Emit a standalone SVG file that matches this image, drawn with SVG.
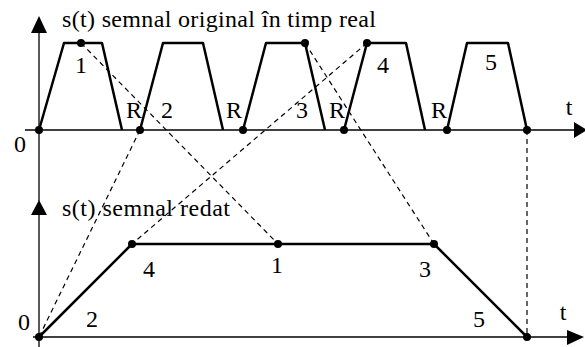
<svg xmlns="http://www.w3.org/2000/svg" width="585" height="347" viewBox="0 0 585 347">
<style>
.ax{stroke:#000;stroke-width:1.3;fill:none}
.sig{stroke:#000;stroke-width:2.5;fill:none;stroke-linejoin:round}
.dash{stroke:#000;stroke-width:1.2;fill:none;stroke-dasharray:5,4}
.head{fill:#000}
.dot{fill:#000}
.m{text-anchor:middle}
</style>
<rect width="585" height="347" fill="#fff"/>
<g id="axes">
<line class="ax" x1="39" y1="30" x2="39" y2="201"/>
<polygon class="head" points="39,16 31,33 47,33"/>
<line class="ax" x1="25" y1="130" x2="576" y2="130"/>
<polygon class="head" points="587,130 574,122 574,138"/>
<line class="ax" x1="39" y1="212" x2="39" y2="347"/>
<polygon class="head" points="39,200 31,215 47,215"/>
<line class="ax" x1="33" y1="337" x2="570" y2="337"/>
<polygon class="head" points="584,337 567,330 567,345"/>
</g>
<g id="connectors">
<line class="dash" x1="81" y1="43" x2="278" y2="244"/>
<line class="dash" x1="140" y1="130" x2="39" y2="337"/>
<line class="dash" x1="367" y1="43" x2="132" y2="244"/>
<line class="dash" x1="305" y1="43" x2="434" y2="244"/>
<line class="dash" x1="527" y1="130" x2="527" y2="337"/>
</g>
<g id="original">
<polyline class="sig" points="39,130 64,43 102,43 122,130"/>
<polyline class="sig" points="140,130 163,43 203,43 223,130"/>
<polyline class="sig" points="243,130 266,43 305,43 325,130"/>
<polyline class="sig" points="344,130 367,43 406,43 425,130"/>
<polyline class="sig" points="447,130 467,43 508,43 527,130"/>
<circle class="dot" cx="39" cy="130" r="4"/>
<circle class="dot" cx="140" cy="130" r="4"/>
<circle class="dot" cx="243" cy="130" r="4"/>
<circle class="dot" cx="344" cy="130" r="4"/>
<circle class="dot" cx="447" cy="130" r="4"/>
<circle class="dot" cx="527" cy="130" r="4"/>
<circle class="dot" cx="81" cy="43" r="4"/>
<circle class="dot" cx="305" cy="43" r="4"/>
<circle class="dot" cx="367" cy="43" r="4"/>
</g>
<g id="redat">
<polyline class="sig" points="39,337 132,244 434,244 527,337"/>
<circle class="dot" cx="39" cy="337" r="4"/>
<circle class="dot" cx="132" cy="244" r="4"/>
<circle class="dot" cx="278" cy="244" r="4"/>
<circle class="dot" cx="434" cy="244" r="4"/>
<circle class="dot" cx="527" cy="337" r="4"/>
</g>
<g id="labels" font-family="'Liberation Serif', 'DejaVu Serif', serif" font-size="24" fill="#000">
<text x="62" y="27" textLength="314" lengthAdjust="spacing">s(t) semnal original în timp real</text>
<text x="62" y="216" textLength="168" lengthAdjust="spacing">s(t) semnal redat</text>
<text class="m" x="81" y="73">1</text>
<text class="m" x="134" y="118">R</text>
<text class="m" x="167" y="118">2</text>
<text class="m" x="234" y="118">R</text>
<text class="m" x="302" y="118">3</text>
<text class="m" x="337" y="118">R</text>
<text class="m" x="383" y="73">4</text>
<text class="m" x="439" y="118">R</text>
<text class="m" x="491" y="70">5</text>
<text class="m" x="569" y="115">t</text>
<text class="m" x="20" y="152">0</text>
<text class="m" x="149" y="277">4</text>
<text class="m" x="277" y="273">1</text>
<text class="m" x="425" y="277">3</text>
<text class="m" x="92" y="327">2</text>
<text class="m" x="479" y="327">5</text>
<text class="m" x="24" y="330">0</text>
<text class="m" x="563" y="320">t</text>
</g>
</svg>
